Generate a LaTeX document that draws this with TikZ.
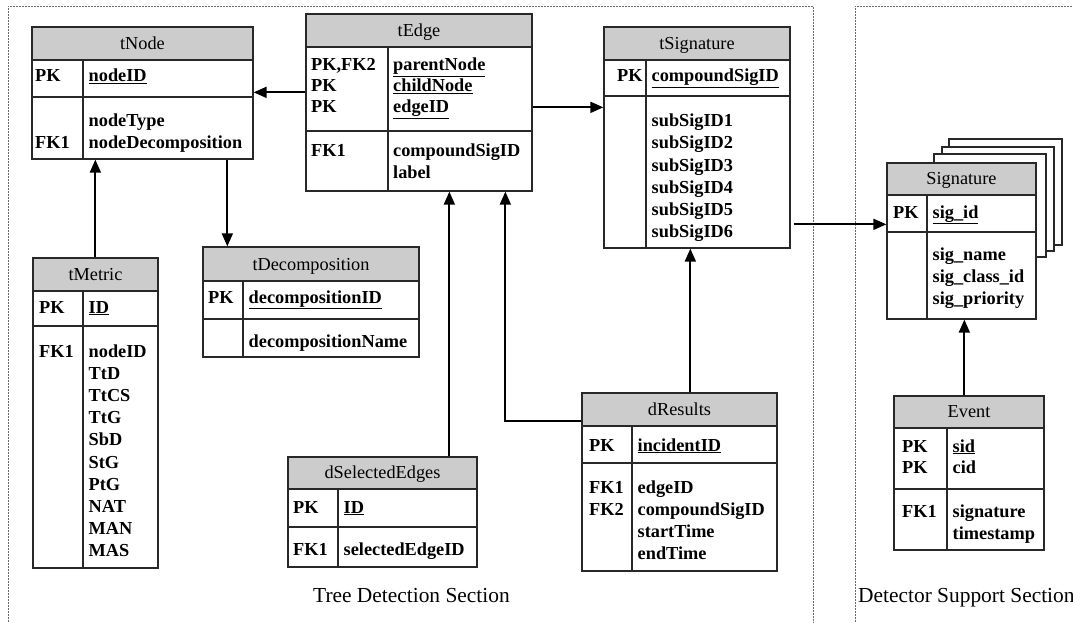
\documentclass[tikz,border=0pt]{standalone}
\usepackage{fontspec}
\setmainfont{Liberation Serif}
\usetikzlibrary{arrows.meta,calc,fit}

\definecolor{hdrgray}{RGB}{204,204,204}
\definecolor{boxline}{RGB}{40,40,40}
\definecolor{framegray}{RGB}{105,105,105}

\newcommand\tabfont{\fontsize{18.3}{22}\selectfont}

\tikzset{
  hdrfill/.style={fill=hdrgray},
  tbox/.style={draw=boxline, line width=1.3pt, inner sep=0pt, rectangle},
  tline/.style={draw=boxline, line width=1.3pt},
  sheet/.style={draw=boxline, fill=white, line width=1.3pt},
  ttitle/.style={anchor=base, inner sep=0pt, font=\tabfont},
  fld/.style={anchor=base west, inner sep=0pt, font=\tabfont\bfseries},
  conn/.style={draw=black, line width=1.8pt, -{Triangle[length=13pt,width=11pt]}},
  sectframe/.style={draw=framegray, line width=0.8pt, dash pattern=on 2pt off 1pt},
  sectlabel/.style={anchor=base west, inner sep=0pt, font=\fontsize{21.4}{25}\selectfont},
}

% entity box: name, left, top, right, bottom, header bottom, key separator, column divider, title
\newcommand\ertable[9]{%
  \fill[hdrfill] (#2,#3) rectangle (#4,#6);
  \node[tbox, fit={(#2,#3) (#4,#5)}] (#1) {};
  \draw[tline] (#2,#6) -- (#4,#6) (#2,#7) -- (#4,#7) (#8,#6) -- (#8,#5);
  \node[ttitle] (#1-title) at ({(#2+#4)/2},{#6-10.5}) {#9};
}

\begin{document}
\begin{tikzpicture}[x=1pt, y=-1pt]
\useasboundingbox (0,0) rectangle (1073,623);

% section frames
\draw[sectframe] (8,640) -- (8,6) -- (813,6) -- (813,640);
\draw[sectframe] (855,640) -- (855,6) -- (1090,6);
\node[sectlabel] (secTree) at (313,602) {Tree Detection Section};
\node[sectlabel] (secDetector) at (858,602) {Detector Support Section};

% tNode
\ertable{tNode}{32}{27}{253}{159}{60}{97}{83}{tNode}
\node[fld] (tNode-k1) at (35,82) {PK};
\node[fld] (tNode-f1) at (88.5,82) {\underline{nodeID}};
\node[fld] (tNode-f2) at (88.5,127) {nodeType};
\node[fld] (tNode-k2) at (35,148) {FK1};
\node[fld] (tNode-f3) at (88.5,148) {nodeDecomposition};

% tEdge
\ertable{tEdge}{306}{14}{532}{191}{47}{131}{388}{tEdge}
\node[fld] (tEdge-k1) at (311,71) {PK,FK2};
\node[fld] (tEdge-k2) at (311,92) {PK};
\node[fld] (tEdge-k3) at (311,113) {PK};
\node[fld] (tEdge-k4) at (311,157) {FK1};
\node[fld] (tEdge-f1) at (393,71) {\underline{parentNode}};
\node[fld] (tEdge-f2) at (393,92) {\underline{childNode}};
\node[fld] (tEdge-f3) at (393,113) {\underline{edgeID}};
\node[fld] (tEdge-f4) at (393,157) {compoundSigID};
\node[fld] (tEdge-f5) at (393,178) {label};

% tSignature
\ertable{tSignature}{604}{27}{790}{248}{60}{96}{646}{tSignature}
\node[fld] (tSignature-k1) at (617,82) {PK};
\node[fld] (tSignature-f0) at (651.5,82) {\underline{compoundSigID}};
\foreach \t [count=\i] in {subSigID1,subSigID2,subSigID3,subSigID4,subSigID5,subSigID6}
  \node[fld] (tSignature-f\i) at (651.5,{127+22*(\i-1)}) {\t};

% tMetric
\ertable{tMetric}{33}{258}{158}{568}{291}{326}{83}{tMetric}
\node[fld] (tMetric-k1) at (39,313) {PK};
\node[fld] (tMetric-f0) at (88.5,313) {\underline{ID}};
\node[fld] (tMetric-k2) at (39,357) {FK1};
\foreach \t [count=\i] in {nodeID,TtD,TtCS,TtG,SbD,StG,PtG,NAT,MAN,MAS}
  \node[fld] (tMetric-f\i) at (88.5,{357+22.2*(\i-1)}) {\t};

% tDecomposition
\ertable{tDecomposition}{203}{247}{419}{357}{281}{319}{243}{tDecomposition}
\node[fld] (tDecomposition-k1) at (208,303) {PK};
\node[fld] (tDecomposition-f1) at (248.5,303) {\underline{decompositionID}};
\node[fld] (tDecomposition-f2) at (248.5,347) {decompositionName};

% dSelectedEdges
\ertable{dSelectedEdges}{288}{457}{477}{567}{489}{527}{338}{dSelectedEdges}
\node[fld] (dSelectedEdges-k1) at (293,513) {PK};
\node[fld] (dSelectedEdges-f1) at (343.5,513) {\underline{ID}};
\node[fld] (dSelectedEdges-k2) at (293,555) {FK1};
\node[fld] (dSelectedEdges-f2) at (343.5,555) {selectedEdgeID};

% dResults
\ertable{dResults}{582}{393}{777}{571}{426}{463}{632}{dResults}
\node[fld] (dResults-k1) at (589,451) {PK};
\node[fld] (dResults-f1) at (637.5,451) {\underline{incidentID}};
\node[fld] (dResults-k2) at (589,493) {FK1};
\node[fld] (dResults-k3) at (589,515) {FK2};
\node[fld] (dResults-f2) at (637.5,493) {edgeID};
\node[fld] (dResults-f3) at (637.5,515) {compoundSigID};
\node[fld] (dResults-f4) at (637.5,537) {startTime};
\node[fld] (dResults-f5) at (637.5,559) {endTime};

% Signature (multiple instances shown as stacked sheets)
\filldraw[sheet] (949,139) rectangle (1062,245);
\filldraw[sheet] (942,147) rectangle (1054,251);
\filldraw[sheet] (934,154) rectangle (1046,257);
\fill[white] (887,163) rectangle (1036,319);
\ertable{Signature}{887}{163}{1036}{319}{195}{232}{927}{Signature}
\node[fld] (Signature-k1) at (893,218) {PK};
\node[fld] (Signature-f1) at (932.5,218) {\underline{sig\_id}};
\node[fld] (Signature-f2) at (932.5,260) {sig\_name};
\node[fld] (Signature-f3) at (932.5,282) {sig\_class\_id};
\node[fld] (Signature-f4) at (932.5,304) {sig\_priority};

% Event
\ertable{Event}{894}{396}{1044}{550}{428}{489}{947}{Event}
\node[fld] (Event-k1) at (902,452) {PK};
\node[fld] (Event-k2) at (902,473) {PK};
\node[fld] (Event-k3) at (902,517) {FK1};
\node[fld] (Event-f1) at (952.5,452) {\underline{sid}};
\node[fld] (Event-f2) at (952.5,473) {cid};
\node[fld] (Event-f3) at (952.5,517) {signature};
\node[fld] (Event-f4) at (952.5,539) {timestamp};

% relationships
\draw[conn] ($(tEdge.north west)+(0,79)$) coordinate (cEN) -- (cEN -| tNode.east);
\draw[conn] ($(tNode.south west)+(196,0)$) coordinate (cND) -- (cND |- tDecomposition.north);
\draw[conn] ($(tMetric.north west)+(63,0)$) coordinate (cMN) -- (cMN |- tNode.south);
\draw[conn] ($(tEdge.north east)+(0,94)$) coordinate (cES) -- (cES -| tSignature.west);
\draw[conn] ($(tSignature.north east)+(3,198)$) coordinate (cSS) -- (cSS -| Signature.west);
\draw[conn] ($(dSelectedEdges.north west)+(162,0)$) coordinate (cDE) -- (cDE |- tEdge.south);
\draw[conn] ($(dResults.north west)+(0,29)$) -| ($(tEdge.south west)+(200,0)$);
\draw[conn] ($(dResults.north west)+(109,0)$) coordinate (cRS) -- (cRS |- tSignature.south);
\draw[conn] ($(Event.north west)+(71,0)$) coordinate (cEv) -- (cEv |- Signature.south);
\end{tikzpicture}
\end{document}
